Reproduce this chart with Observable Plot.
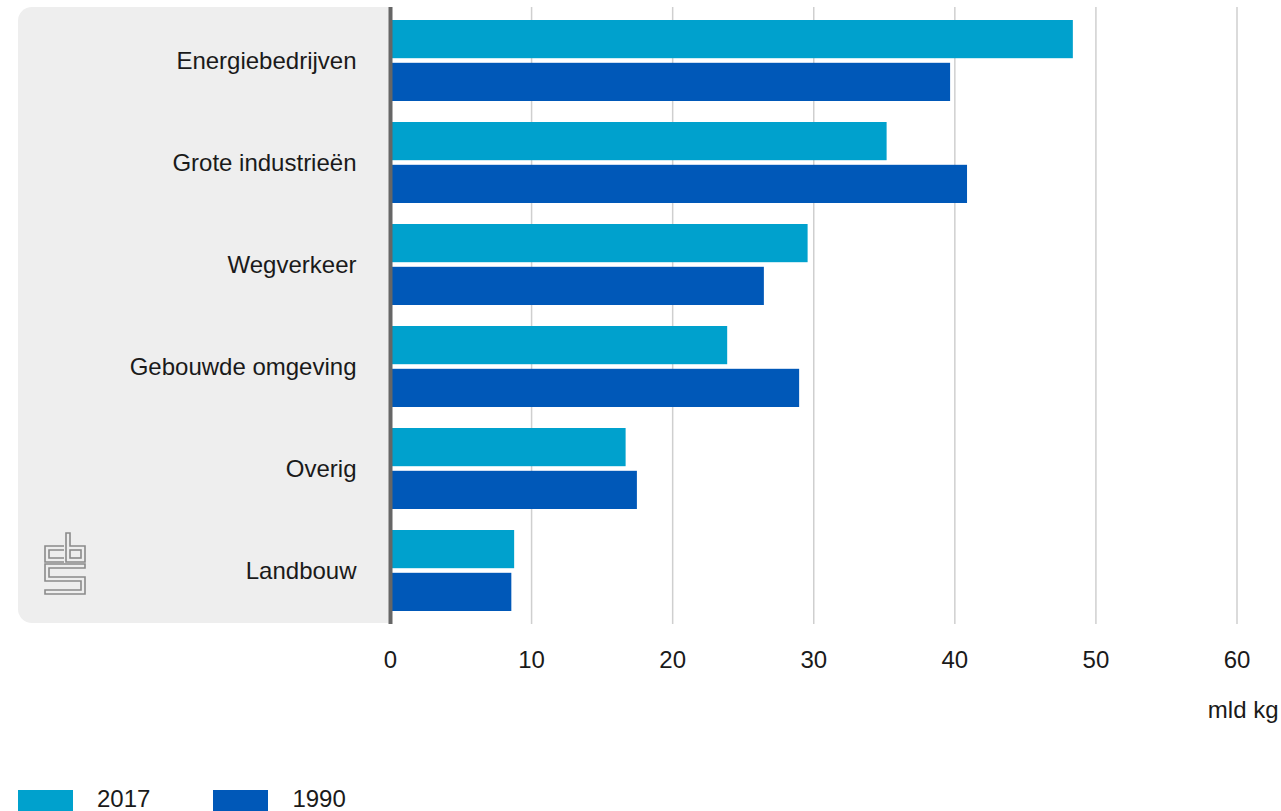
<!DOCTYPE html>
<html>
<head>
<meta charset="utf-8">
<script src="https://cdn.jsdelivr.net/npm/d3@7"></script>
<script src="https://cdn.jsdelivr.net/npm/@observablehq/plot@0.6"></script>
<style>
  html, body { margin: 0; padding: 0; background: #fff; }
  body { font-family: "Liberation Sans", Arial, sans-serif; }
  #wrap { position: relative; width: 1281px; height: 811px; overflow: hidden; }
  #panel { position: absolute; left: 18px; top: 7px; width: 372px; height: 616px; background: #eeeeee; border-radius: 14px 0 0 14px; }
  #logo { position: absolute; left: 0; top: 0; }
  #chart { position: absolute; left: 0; top: 0; }
  #legend { position: absolute; left: 18px; top: 790px; display: flex; align-items: flex-start; font-size: 24px; line-height: 24px; color: #1a1a1a; }
  .item { display: flex; align-items: flex-start; margin-right: 63px; }
  .sw { width: 55px; height: 25px; margin-right: 24px; }
  .lbl { margin-top: -3px; }
</style>
</head>
<body>
<div id="wrap">
  <div id="panel"></div>
  <svg id="logo" width="120" height="620" viewBox="0 0 120 620">
    <g fill="none" stroke="#8a8a8a" stroke-width="1.6">
      <path d="M64 546 H45 V562 H64 M64 550 H49 V558 H64"/>
      <path d="M66 533 V562 H85 V546 H70 V533 Z"/>
      <rect x="70" y="550" width="11" height="8"/>
      <path d="M85 564 H45 V581 H81 V590 H45 V594 H85 V577 H49 V568 H85 Z"/>
    </g>
  </svg>
  <div id="chart"></div>
  <div id="legend"></div>
</div>
<script>
const categories = ["Energiebedrijven", "Grote industrieën", "Wegverkeer", "Gebouwde omgeving", "Overig", "Landbouw"];
const values2017 = [48.4, 35.2, 29.6, 23.9, 16.7, 8.8];
const values1990 = [39.7, 40.9, 26.5, 29.0, 17.5, 8.6];
const years = ["2017", "1990"];
const yearColors = ["#00a1cd", "#0058b8"];
const xTicks = [0, 10, 20, 30, 40, 50, 60];
const unitLabel = "mld kg";

const data = categories.flatMap((c, i) => [
  {category: c, year: "2017", value: values2017[i]},
  {category: c, year: "1990", value: values1990[i]}
]);

const chart = Plot.plot({
  width: 1281,
  height: 740,
  marginLeft: 390,
  marginRight: 44.5,
  marginTop: 7,
  marginBottom: 116,
  style: {background: "transparent", fontFamily: "'Liberation Sans', Arial, sans-serif", fontSize: "24px", color: "#1a1a1a", overflow: "visible"},
  x: {domain: [0, 60], ticks: xTicks, tickSize: 0, tickPadding: 26, label: null},
  y: {domain: categories, paddingInner: 0.21, paddingOuter: 0.103, tickSize: 0, tickPadding: 34, label: null},
  color: {domain: years, range: yearColors},
  marks: [
    Plot.ruleX(xTicks.slice(1), {stroke: "#cfcfcf", strokeWidth: 1.5}),
    Plot.barX(data.filter(d => d.year === "2017"), {x: "value", y: "category", fill: "year", insetBottom: 42.8}),
    Plot.barX(data.filter(d => d.year === "1990"), {x: "value", y: "category", fill: "year", insetTop: 42.8}),
    Plot.ruleX([0], {stroke: "#666666", strokeWidth: 4}),
    Plot.text([unitLabel], {text: d => d, frameAnchor: "bottom-right", dx: 41.5, dy: 93, textAnchor: "end", fontSize: 24, fill: "#1a1a1a"})
  ]
});
document.getElementById("chart").appendChild(chart);

const legend = document.getElementById("legend");
years.forEach((y, i) => {
  const item = document.createElement("div");
  item.className = "item";
  const sw = document.createElement("div");
  sw.className = "sw";
  sw.style.background = yearColors[i];
  const lbl = document.createElement("span");
  lbl.className = "lbl";
  lbl.textContent = y;
  item.appendChild(sw);
  item.appendChild(lbl);
  legend.appendChild(item);
});
</script>
</body>
</html>
